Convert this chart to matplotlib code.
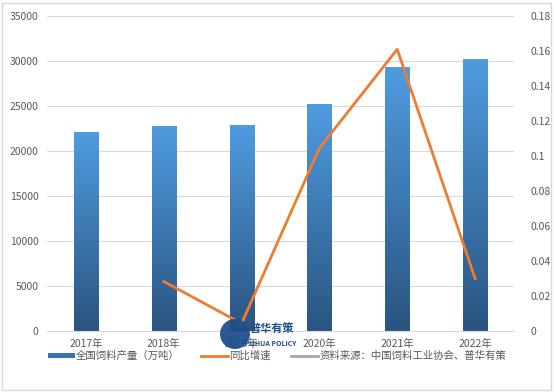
import matplotlib
matplotlib.use("Agg")
import matplotlib.pyplot as plt
import numpy as np
from matplotlib.patches import Rectangle, Circle
from matplotlib.lines import Line2D

plt.rcParams['font.family'] = ['Noto Sans CJK SC', 'DejaVu Sans']

years = ["2017年", "2018年", "2019年", "2020年", "2021年", "2022年"]
production = [22161, 22788, 22885, 25276, 29344, 30223]
growth_years = ["2018年", "2019年", "2020年", "2021年", "2022年"]
growth = [0.0283, 0.0043, 0.1045, 0.1610, 0.0300]

W, H = 554, 392
fig = plt.figure(figsize=(W/100, H/100), dpi=100)
fig.patch.set_facecolor('white')
# outer border
fig.add_artist(Rectangle((2/W, 2/H), (W-5)/W, (H-5)/H, transform=fig.transFigure,
                         fill=False, edgecolor='#d9d9d9', linewidth=1))

left, right, top, bottom = 47, 514, 16, 331
ax = fig.add_axes([left/W, 1-bottom/H, (right-left)/W, (bottom-top)/H])
x = np.arange(len(years))
bw = 0.31
bars = ax.bar(x, production, width=bw, color='#3f7fbf', zorder=2)

ax.set_xlim(-0.5, len(years)-0.5)
ax.set_ylim(0, 35000)
ax.set_yticks(np.arange(0, 35001, 5000))
ax.set_yticklabels([str(v) for v in range(0, 35001, 5000)])
ax.yaxis.grid(True, color='#d9d9d9', linewidth=0.8, zorder=0)
ax.set_axisbelow(True)
for s in ['top', 'right', 'left']:
    ax.spines[s].set_visible(False)
ax.spines['bottom'].set_color('#d9d9d9')
ax.tick_params(axis='both', length=0, labelsize=7.5, colors='#595959', pad=6)
ax.set_xticks(x)
ax.set_xticklabels(years)

# gradient fill for bars
grad = np.linspace(0, 1, 256).reshape(-1, 1)
from matplotlib.colors import LinearSegmentedColormap
cmap = LinearSegmentedColormap.from_list('g', ['#2a5480', '#4f9ce0'])
for b in bars:
    bx, by = b.get_x(), b.get_y()
    bwid, bh = b.get_width(), b.get_height()
    im = ax.imshow(grad, extent=[bx, bx+bwid, by, by+bh], origin='lower',
                   cmap=cmap, aspect='auto', zorder=2.5)
    im.set_clip_path(b)
ax.set_xlim(-0.5, len(years)-0.5)
ax.set_ylim(0, 35000)

ax2 = ax.twinx()
gx = [years.index(y) for y in growth_years]
ax2.plot(gx, growth, color='#ed7d31', linewidth=2, zorder=5)
ax2.set_ylim(0, 0.18)
ax2.set_yticks(np.arange(0, 0.181, 0.02))
ax2.set_yticklabels(['0', '0.02', '0.04', '0.06', '0.08', '0.1', '0.12', '0.14', '0.16', '0.18'])
for s in ax2.spines.values():
    s.set_visible(False)
ax2.tick_params(axis='y', length=0, labelsize=7.5, colors='#595959', pad=12)

# legend
handles = [Rectangle((0, 0), 1, 1, facecolor='#3a74ad'),
           Line2D([], [], color='#ed7d31', linewidth=2),
           Line2D([], [], color='#a6a6a6', linewidth=2)]
labels = ['全国饲料产量（万吨）', '同比增速', '资料来源：中国饲料工业协会、普华有策']
fig.legend(handles, labels, loc='center', bbox_to_anchor=(0.5, 1-356/H), ncol=3,
           frameon=False, fontsize=7.5, labelcolor='#595959', handlelength=2.6,
           handleheight=0.45, columnspacing=2.0, handletextpad=0.1)

# watermark logo
cx, cy = 235/W, 1-334/H
fig.add_artist(Circle((235, H-334), 15, transform=None, facecolor='#1f4e8c',
                      edgecolor='none', zorder=10, alpha=0.95))
fig.text(250/W, 1-328/H, '普华有策', fontsize=8, fontweight='bold', color='#1f4e8c',
         ha='left', va='center', zorder=11)
fig.text(245/W, 1-344/H, 'PUHUA POLICY', fontsize=5, fontweight='bold', color='#1f4e8c',
         ha='left', va='center', zorder=11)

fig.savefig('out.png', dpi=100)
